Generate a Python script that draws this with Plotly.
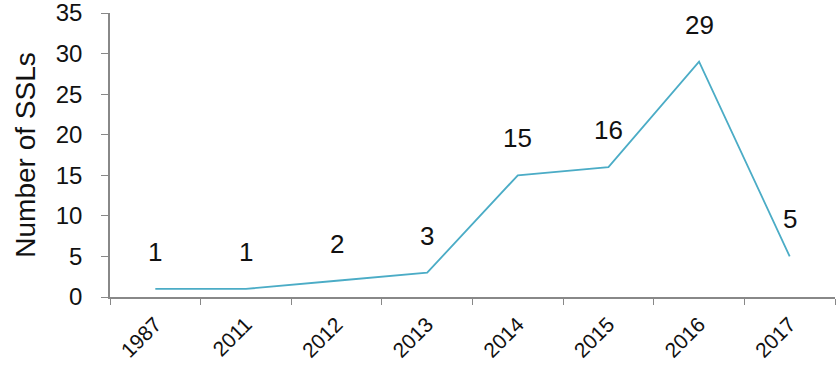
import plotly.graph_objects as go

years = ["1987", "2011", "2012", "2013", "2014", "2015", "2016", "2017"]
counts = [1, 1, 2, 3, 15, 16, 29, 5]

FONT = "Liberation Sans, Arial, sans-serif"
fig = go.Figure()
fig.add_trace(go.Scatter(x=years, y=counts, mode="lines",
                         line=dict(color="#4BACC6", width=1.8), hoverinfo="skip"))
for i, c in enumerate(counts):
    fig.add_annotation(x=i, y=c, xref="x", yref="y", text=str(c), showarrow=False,
                       yshift=37, font=dict(family=FONT, size=26, color="#111"))

fig.update_layout(
    width=837, height=388, margin=dict(l=110, r=2, t=13, b=91),
    plot_bgcolor="white", paper_bgcolor="white", showlegend=False,
    font=dict(family=FONT, color="#111"),
)
fig.update_xaxes(type="category", range=[-0.5, 7.5], tickson="boundaries",
                 ticks="outside", ticklen=6, tickcolor="#888", showline=True,
                 linecolor="#888", linewidth=1.5, showgrid=False, tickangle=-45,
                 ticklabelstandoff=5, ticklabeloverflow="allow", automargin=False,
                 tickfont=dict(size=21, family=FONT, color="#111"))
fig.update_yaxes(range=[0, 35], dtick=5, ticks="outside", ticklen=7, tickcolor="#888",
                 showline=True, linecolor="#888", linewidth=1.5, showgrid=False,
                 zeroline=False, ticklabelstandoff=14, ticklabeloverflow="allow",
                 automargin=False,
                 tickfont=dict(size=24, family=FONT, color="#111"),
                 title=dict(text="Number of SSLs", font=dict(size=28, family=FONT, color="#111"),
                            standoff=12))
fig.write_html("out.html")
